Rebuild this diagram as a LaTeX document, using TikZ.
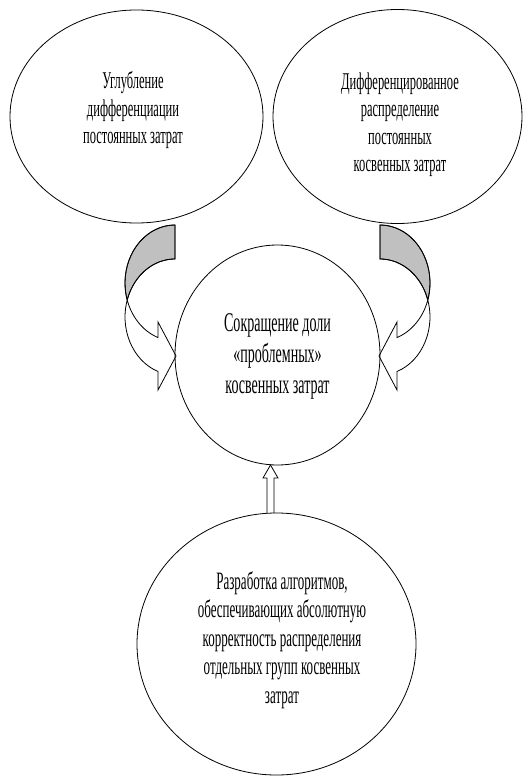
\documentclass[tikz,border=0pt]{standalone}
\usepackage{fontspec}
\setmainfont{Liberation Serif}
\newfontfamily\cf{Liberation Serif}[FakeStretch=0.52]
\usetikzlibrary{shapes.geometric}
\definecolor{bandgray}{RGB}{192,192,192}
\begin{document}
\begin{tikzpicture}[x=1pt,y=-1pt,line width=0.8pt,
  blob/.style={draw, ellipse, inner sep=0pt},
  txt/.style={align=center, inner sep=0pt, font=\cf\fontsize{24}{27.5}\selectfont},
  bandline/.style={draw, line join=miter},
  backband/.style={draw, fill=bandgray, line join=miter}]
\useasboundingbox (0,0) rectangle (528,776);

% ellipses
\node[blob, minimum width=253pt, minimum height=213pt] (tl) at (136.5,116.5) {};
\node[blob, minimum width=249pt, minimum height=214pt] (tr) at (397.5,116.5) {};
\node[blob, minimum width=205pt, minimum height=220pt] (mid) at (277.5,355) {};
\node[blob, minimum width=279pt, minimum height=262pt] (bot) at (276.5,644) {};

% texts
\node[txt] (tltext) at (133,110) {Углубление\\дифференциации\\постоянных затрат};
\node[txt] (trtext) at (400,124.5) {Дифференцированное\\распределение\\постоянных\\косвенных затрат};
\node[txt, font=\cf\fontsize{27}{31}\selectfont] (midtext) at (277.5,356) {Сокращение доли\\«проблемных»\\косвенных затрат};
\node[txt, font=\cf\fontsize{25}{28.5}\selectfont] (bottext) at (282,640) {Разработка алгоритмов,\\обеспечивающих абсолютную\\корректность распределения\\отдельных групп косвенных\\затрат};

% left curved arrow
\path[backband] (175,225) arc[start angle=90, end angle=197.04, x radius=50pt, y radius=58pt]
   arc[start angle=162.96, end angle=90, x radius=50pt, y radius=58pt] -- cycle;
\path[bandline] (175,225) arc[start angle=90, end angle=250.1, x radius=50pt, y radius=58pt]
   -- (158,322) -- (176,356) -- (158,390) -- (158,371.5)
   arc[start angle=250.1, end angle=90, x radius=50pt, y radius=58pt] -- cycle;

% right curved arrow
\path[backband] (380,225) arc[start angle=90, end angle=-17.04, x radius=50pt, y radius=58pt]
   arc[start angle=17.04, end angle=90, x radius=50pt, y radius=58pt] -- cycle;
\path[bandline] (380,225) arc[start angle=90, end angle=-70.1, x radius=50pt, y radius=58pt]
   -- (397,322) -- (379,356) -- (397,390) -- (397,371.5)
   arc[start angle=-70.1, end angle=90, x radius=50pt, y radius=58pt] -- cycle;

% up arrow
\path[bandline] (267,513) -- (267,478) -- (263,478) -- (270.5,465) -- (278,478) -- (274,478) -- (274,513);
\end{tikzpicture}
\end{document}
